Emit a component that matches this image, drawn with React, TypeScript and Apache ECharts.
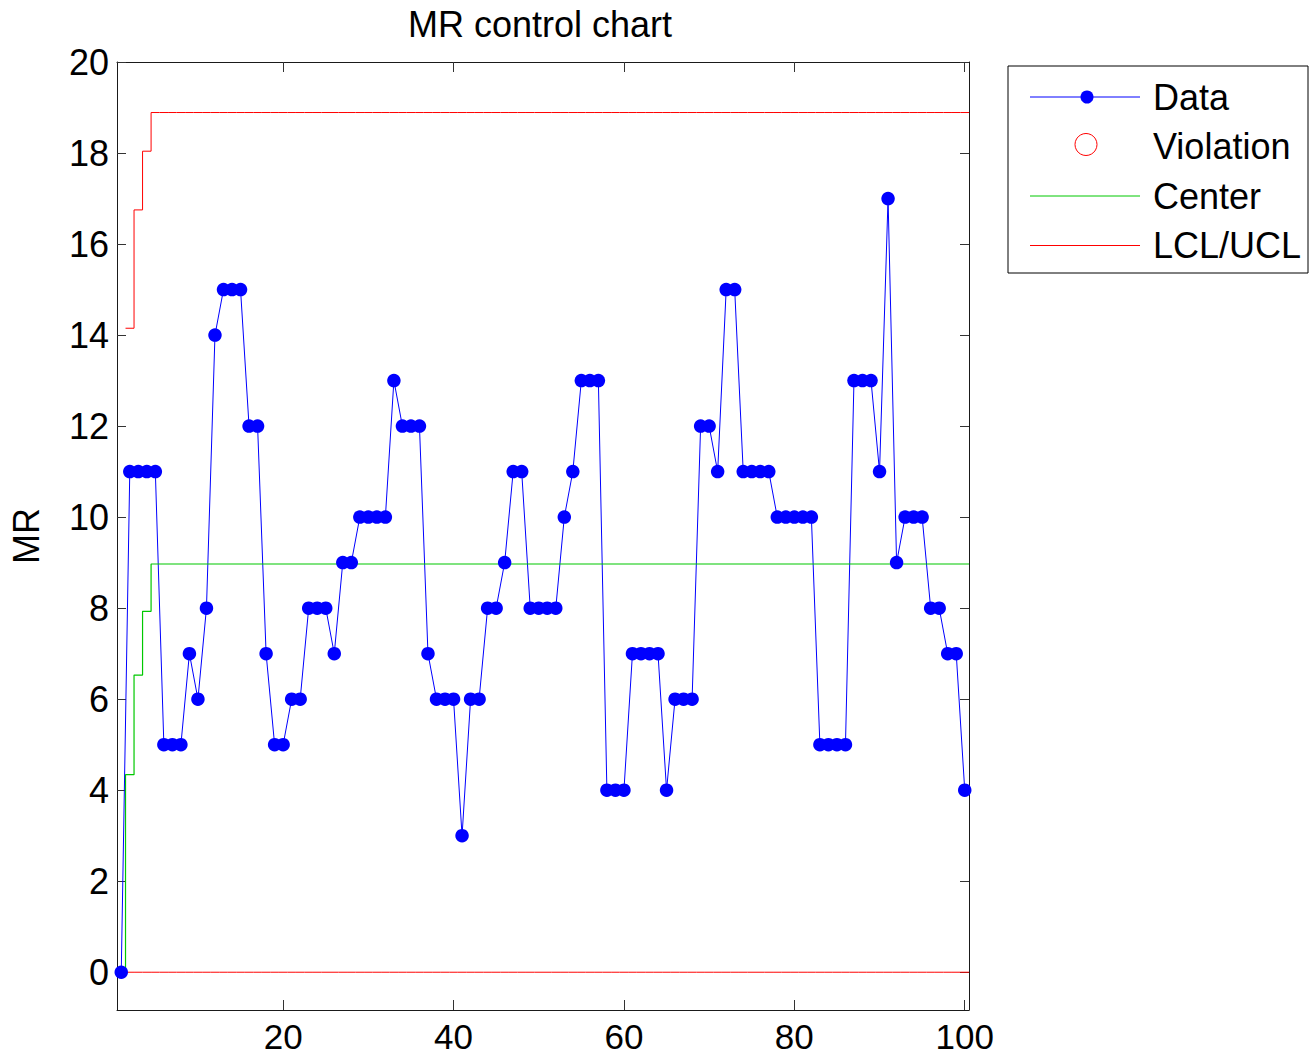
import React, { useEffect, useRef } from "react";
import * as echarts from "echarts";

// Moving-range values, observations 1..100
const mrValues = [
  0, 11, 11, 11, 11, 5, 5, 5, 7, 6, 8, 14, 15, 15, 15, 12, 12, 7, 5, 5,
  6, 6, 8, 8, 8, 7, 9, 9, 10, 10, 10, 10, 13, 12, 12, 12, 7, 6, 6, 6,
  3, 6, 6, 8, 8, 9, 11, 11, 8, 8, 8, 8, 10, 11, 13, 13, 13, 4, 4, 4,
  7, 7, 7, 7, 4, 6, 6, 6, 12, 12, 11, 15, 15, 11, 11, 11, 11, 10, 10, 10,
  10, 10, 5, 5, 5, 5, 13, 13, 13, 11, 17, 9, 10, 10, 10, 8, 8, 7, 7, 4,
];
// Center line: first observations, then steady value
const centerStart = [0, 4.34, 6.53, 7.93];
const centerSteady = 8.97;
// Upper control limit: first observations (obs 1 has none), then steady value
const uclStart = [null, 14.15, 16.75, 18.04];
const uclSteady = 18.89;
const lclValue = 0;

const xTicks = [20, 40, 60, 80, 100];
const yTicks = [0, 2, 4, 6, 8, 10, 12, 14, 16, 18, 20];
const legendNames = ["Data", "Violation", "Center", "LCL/UCL"];

const FONT = "'Liberation Sans', Arial, Helvetica, sans-serif";

function fullSeries(start: (number | null)[], steady: number, n: number) {
  const out: (number | null)[] = [];
  for (let i = 0; i < n; i++) out.push(i < start.length ? start[i] : steady);
  return out;
}

function stepPairs(vals: (number | null)[]) {
  const pts: [number, number][] = [];
  vals.forEach((v, i) => {
    if (v !== null) pts.push([i + 1 - 0.5, v]);
  });
  const last = vals[vals.length - 1];
  if (last !== null) pts.push([vals.length + 0.5, last]);
  return pts;
}

export default function App() {
  const ref = useRef<HTMLDivElement>(null);
  useEffect(() => {
    if (!ref.current) return;
    const chart = echarts.init(ref.current, undefined, { renderer: "svg" });
    const n = mrValues.length;
    const center = fullSeries(centerStart, centerSteady, n);
    const ucl = fullSeries(uclStart, uclSteady, n);
    const lcl = fullSeries([], lclValue, n);
    const dataPairs = mrValues.map((v, i) => [i + 1, v]);

    const axisLineStyle = { color: "#1a1a1a", width: 1 };
    const tickStyle = { color: "#333", width: 1 };
    const xMin = 0.5, xMax = 100.5, yMin = -0.83, yMax = 20;

    const legendX = 1008, legendY = 66, rowGap = 49.5, firstRow = 97;
    const colors = ["#0000ff", "#ff0000", "#00c800", "#ff0000"];

    const legendGraphics: any[] = [
      {
        type: "rect",
        shape: { x: legendX, y: legendY, width: 300, height: 207 },
        style: { fill: "#fff", stroke: "#000", lineWidth: 1 },
      },
    ];
    legendNames.forEach((name, i) => {
      const cy = firstRow + i * rowGap;
      if (i !== 1) {
        legendGraphics.push({
          type: "line",
          shape: { x1: 1030, y1: cy, x2: 1140, y2: cy },
          style: { stroke: colors[i], lineWidth: 1 },
        });
      }
      if (i === 0) {
        legendGraphics.push({
          type: "circle",
          shape: { cx: 1087, cy, r: 6.5 },
          style: { fill: colors[0] },
        });
      }
      if (i === 1) {
        legendGraphics.push({
          type: "circle",
          shape: { cx: 1086, cy: cy - 2, r: 11 },
          style: { fill: "none", stroke: colors[1], lineWidth: 1 },
        });
      }
      legendGraphics.push({
        type: "text",
        x: 1153,
        y: cy,
        style: {
          text: name,
          fontFamily: FONT,
          fontSize: 36,
          fill: "#000",
          verticalAlign: "middle",
          align: "left",
        },
      });
    });

    chart.setOption({
      animation: false,
      backgroundColor: "#fff",
      title: {
        text: "MR control chart",
        left: 535,
        top: 1,
        textAlign: "center",
        textStyle: { fontFamily: FONT, fontSize: 36, fontWeight: "normal", color: "#000" },
      },
      grid: { left: 115, top: 62, right: 341, bottom: 47 },
      xAxis: [
        {
          type: "value",
          min: xMin,
          max: xMax,
          position: "bottom",
          axisLine: { show: true, onZero: false, lineStyle: axisLineStyle },
          axisTick: { show: true, inside: true, length: 10, lineStyle: tickStyle, customValues: xTicks },
          axisLabel: {
            customValues: xTicks,
            fontFamily: FONT,
            fontSize: 35,
            lineHeight: 34,
            color: "#000",
            margin: 9,
          },
          splitLine: { show: false },
        },
        {
          type: "value",
          min: xMin,
          max: xMax,
          position: "top",
          axisLine: { show: true, onZero: false, lineStyle: axisLineStyle },
          axisTick: { show: true, inside: true, length: 10, lineStyle: tickStyle, customValues: xTicks },
          axisLabel: { show: false },
          splitLine: { show: false },
        },
      ],
      yAxis: [
        {
          type: "value",
          min: yMin,
          max: yMax,
          position: "left",
          name: "MR",
          nameLocation: "middle",
          nameGap: 73,
          nameRotate: 90,
          nameTextStyle: { fontFamily: FONT, fontSize: 36, color: "#000" },
          axisLine: { show: true, onZero: false, lineStyle: axisLineStyle },
          axisTick: { show: true, inside: true, length: 9, lineStyle: tickStyle, customValues: yTicks },
          axisLabel: { customValues: yTicks, fontFamily: FONT, fontSize: 36, color: "#000", margin: 8 },
          splitLine: { show: false },
        },
        {
          type: "value",
          min: yMin,
          max: yMax,
          position: "right",
          axisLine: { show: true, onZero: false, lineStyle: axisLineStyle },
          axisTick: { show: true, inside: true, length: 9, lineStyle: tickStyle, customValues: yTicks },
          axisLabel: { show: false },
          splitLine: { show: false },
        },
      ],
      graphic: legendGraphics,
      series: [
        {
          name: "Data",
          type: "line",
          xAxisIndex: 0,
          yAxisIndex: 0,
          data: dataPairs,
          symbol: "circle",
          symbolSize: 13.5,
          itemStyle: { color: colors[0] },
          lineStyle: { color: colors[0], width: 1 },
        },
        {
          name: "Violation",
          type: "scatter",
          data: [],
          symbol: "emptyCircle",
          itemStyle: { color: colors[1] },
        },
        {
          name: "Center",
          type: "line",
          step: "end",
          data: stepPairs(center),
          symbol: "none",
          lineStyle: { color: colors[2], width: 1.2 },
        },
        {
          name: "LCL/UCL",
          type: "line",
          step: "end",
          data: stepPairs(ucl),
          symbol: "none",
          lineStyle: { color: colors[3], width: 1 },
        },
        {
          name: "LCL/UCL",
          type: "line",
          step: "end",
          data: stepPairs(lcl),
          symbol: "none",
          lineStyle: { color: colors[3], width: 1 },
        },
      ],
    });
    return () => chart.dispose();
  }, []);

  return (
    <div
      ref={ref}
      style={{ position: "fixed", left: 0, top: 0, width: 1310, height: 1057, background: "#fff" }}
    />
  );
}
